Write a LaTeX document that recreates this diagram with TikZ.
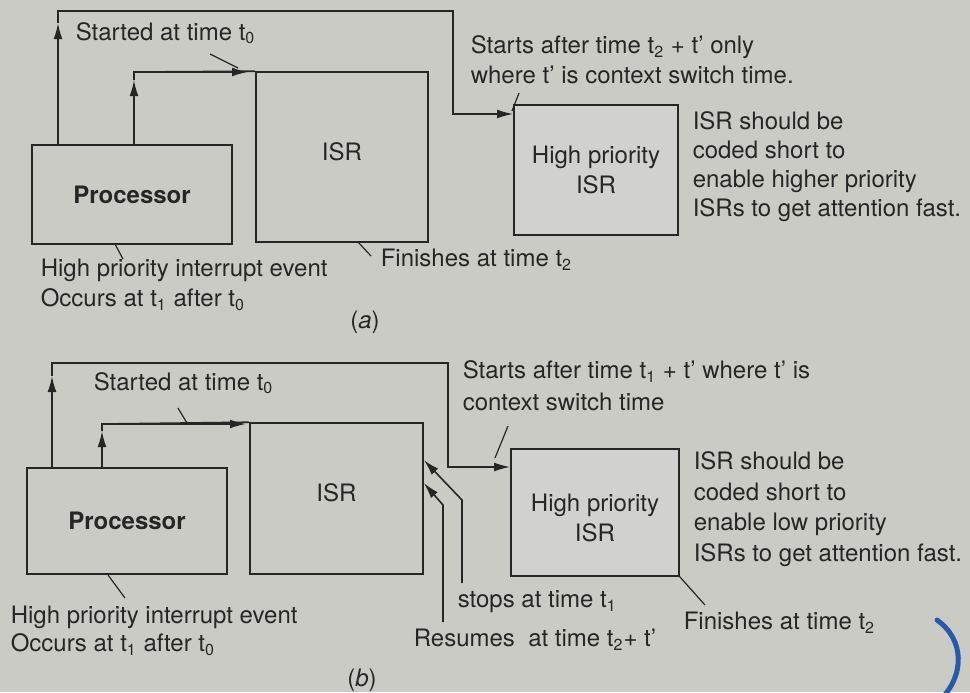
\documentclass[tikz,border=0pt]{standalone}
\usepackage{fontspec}
\setmainfont{TeX Gyre Heros}
\usetikzlibrary{arrows.meta,positioning}

\definecolor{paper}{RGB}{203,203,198}
\definecolor{hpfill}{RGB}{209,209,205}
\definecolor{ink}{RGB}{38,38,38}
\definecolor{pen}{RGB}{40,90,170}

\begin{document}
\begin{tikzpicture}[x=0.5pt, y=-0.5pt, >={Latex[length=8pt,width=4.4pt]},
  line width=0.8pt, draw=ink, text=ink, font=\fontsize{12}{15}\selectfont]

% Styles
\tikzstyle{block}  = [draw, rectangle, inner sep=0pt]
\tikzstyle{hp}     = [block, fill=hpfill, align=center]
\tikzstyle{txt}    = [inner sep=0pt, anchor=west, align=left]
\tikzstyle{leader} = [line width=0.6pt]

% Paper
\fill [paper] (0,0) rectangle (970,692);
\useasboundingbox (0,0) rectangle (970,692);

%%%%%%%%%%%%%%%%%%%% (a)

% Nodes
\node [block, minimum width=100pt, minimum height=49.5pt] (procA) at (132,194.5) {\bfseries Processor};
\node [block, minimum width=86pt, minimum height=85pt, label={[yshift=2.5pt]center:ISR}] (isrA) at (342,157) {};
\node [hp, minimum width=82pt, minimum height=65pt] (hpA) at (596,170) {High priority\\ISR};

\node [txt] (startA) at (75,33) {Started at time t\textsubscript{0}};
\node [txt] (afterA) at (470,60) {Starts after time t\textsubscript{2} + t’ only\\where t’ is context switch time.};
\node [txt, font=\fontsize{12}{14.5}\selectfont] (noteA) at (692,166.5) {ISR should be\\coded short to\\enable higher priority\\ISRs to get attention fast.};
\node [txt] (eventA) at (40,285) {High priority interrupt event\\Occurs at t\textsubscript{1} after t\textsubscript{0}};
\node [txt] (finA) at (380,260) {Finishes at time t\textsubscript{2}};
\node (capA) at (365,322) {(\textit{a})};

% Bend points
\coordinate (outA1) at (58,11);
\coordinate (outA2) at (453,114);
\coordinate (upA1) at (58,23);
\coordinate (inA) at (134,72);
\coordinate (upA2) at (134,80);
\coordinate (tipA) at (248,72);

% Paths
\draw [->] (procA.north -| outA1) -- (upA1);
\draw [->] (upA1) -- (outA1) -| (outA2) -- (hpA.west |- outA2);
\draw [->] (procA.north -| inA) -- (upA2);
\draw (upA2) -- (inA) -- (isrA.north west);
\draw [->] (inA) -- (tipA);

% Leaders
\coordinate (ldA1) at (210,54);  \coordinate (ldA2) at (238,68);
\coordinate (ldA3) at (519,93);  \coordinate (ldA4) at (512,111);
\coordinate (ldA5) at (115,244); \coordinate (ldA6) at (123,259);
\coordinate (ldA7) at (358,242); \coordinate (ldA8) at (371,256);
\draw [leader] (ldA1) -- (ldA2);
\draw [leader] (ldA3) -- (ldA4);
\draw [leader] (ldA5) -- (ldA6);
\draw [leader] (ldA7) -- (ldA8);

%%%%%%%%%%%%%%%%%%%% (b)

% Nodes
\node [block, minimum width=100pt, minimum height=53pt] (procB) at (127,521) {\bfseries Processor};
\node [block, minimum width=86.5pt, minimum height=75.5pt, label={[yshift=2.75pt]center:ISR}] (isrB) at (336.5,498.5) {};
\node [hp, minimum width=84pt, minimum height=63.5pt, label={[yshift=-2.75pt, align=center]center:High priority\\ISR}] (hpB) at (595,512.5) {};

\node [txt] (startB) at (93,383) {Started at time t\textsubscript{0}};
\node [txt, font=\fontsize{12}{16}\selectfont] (afterB) at (462,386) {Starts after time t\textsubscript{1} + t’ where t’ is\\context switch time};
\node [txt, font=\fontsize{12}{15.3}\selectfont] (noteB) at (693,509) {ISR should be\\coded short to\\enable low priority\\ISRs to get attention fast.};
\node [txt, font=\fontsize{12}{14}\selectfont] (eventB) at (10,631) {High priority interrupt event\\Occurs at t\textsubscript{1} after t\textsubscript{0}};
\node [txt] (stopB) at (457,602) {stops at time t\textsubscript{1}};
\node [txt] (resB) at (413,640) {Resumes\ \ at time t\textsubscript{2}+ t’};
\node [txt] (finB) at (683,623) {Finishes at time t\textsubscript{2}};
\node (capB) at (362,680) {(\textit{b})};

% Bend points
\coordinate (outB1) at (52,363);
\coordinate (outB2) at (448,467);
\coordinate (upB1) at (52,376);
\coordinate (inB) at (102,424);
\coordinate (upB2) at (102,431);
\coordinate (tipB) at (246,424);
\coordinate (stB0) at (462,583);
\coordinate (stB1) at (462,500);
\coordinate (stB2) at (0,460);
\coordinate (rsB0) at (443,622);
\coordinate (rsB1) at (443,505);
\coordinate (rsB2) at (0,483);

% Paths
\draw [->] (procB.north -| outB1) -- (upB1);
\draw [->] (upB1) -- (outB1) -| (outB2) -- (hpB.west |- outB2);
\draw [->] (procB.north -| inB) -- (upB2);
\draw (upB2) -- (inB) -- (isrB.north west);
\draw [->] (inB) -- (tipB);
\draw [->] (stB0) -- (stB1) -- (isrB.east |- stB2);
\draw [->] (rsB0) -- (rsB1) -- (isrB.east |- rsB2);

% Leaders
\coordinate (ldB1) at (178,408); \coordinate (ldB2) at (187,423);
\coordinate (ldB3) at (508,426); \coordinate (ldB4) at (495,458);
\coordinate (ldB5) at (108,575); \coordinate (ldB6) at (125,598);
\coordinate (ldB8) at (705,605);
\draw [leader] (ldB1) -- (ldB2);
\draw [leader] (ldB3) -- (ldB4);
\draw [leader] (ldB5) -- (ldB6);
\draw [leader] (hpB.south east) -- (ldB8);

% Pen mark
\draw [pen, line width=2.5pt, line cap=round] (937,620) .. controls (965,640) and (964,675) .. (942,698);

\end{tikzpicture}
\end{document}
